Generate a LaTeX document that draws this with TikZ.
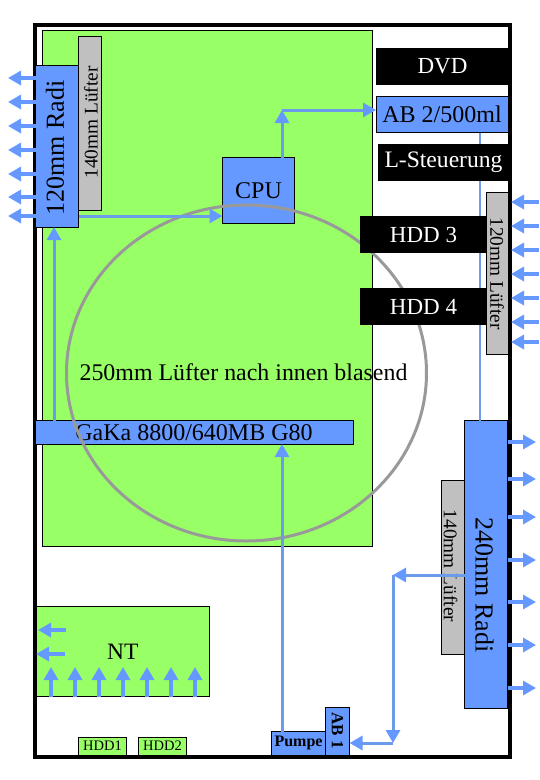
\documentclass[tikz,border=0pt]{standalone}
\usepackage{fontspec}
\setmainfont{Liberation Serif}
\usetikzlibrary{arrows.meta,calc,shapes.geometric}
\definecolor{boardgreen}{HTML}{99FF66}
\definecolor{partblue}{HTML}{6699FF}
\definecolor{fangray}{HTML}{C0C0C0}
\definecolor{ringgray}{HTML}{999999}
\definecolor{pipeblue}{HTML}{6C9BEB}
\newcommand{\fs}[1]{\fontsize{#1}{#1}\selectfont}
\tikzset{
  x=1pt,y=-1pt,
  part/.style={draw=black,line width=1pt,inner sep=0pt,outer sep=0pt,align=center},
  board/.style={part,fill=boardgreen},
  blue part/.style={part,fill=partblue},
  fan/.style={part,fill=fangray},
  drive/.style={fill=black,text=white,inner sep=0pt,outer sep=0pt},
  air/.style={draw=partblue,line width=3.6pt,-{Triangle[length=13pt,width=14pt]}},
  flow/.style={draw=pipeblue,line width=3pt,-{Triangle[color=partblue,length=13pt,width=14pt]}},
  pipe/.style={draw=pipeblue,line width=2.2pt},
}
\begin{document}
\begin{tikzpicture}
\useasboundingbox (0,0) rectangle (540,780);
% frame
\node[draw=black,line width=3.6pt,minimum width=474.5pt,minimum height=732pt,inner sep=0pt] (frame) at (272.5,390.75) {};
% green areas
\node[board,minimum width=330pt,minimum height=516pt] (mobo) at (207.5,288.25) {};
\node[board,minimum width=173.5pt,minimum height=90pt] (nt) at (122.75,651.5) {\fs{23.5}NT};
\node[board,minimum width=48pt,minimum height=18pt] (hdda) at (102.5,746) {\fs{14.5}HDD1};
\node[board,minimum width=48pt,minimum height=18pt] (hddb) at (162.5,746) {\fs{14.5}HDD2};
% parts
\node[blue part,minimum width=132pt,minimum height=36pt] (ab2) at (442,114.5) {\fs{24}AB 2/500ml};
\node[blue part,minimum width=43pt,minimum height=288pt] (radib) at (486,564.5) {};
% pipe behind the drives
\coordinate (pipetop) at (480,132);
\draw[pipe] (ab2.south -| pipetop) -- (radib.north -| pipetop);
\node[fan,minimum width=21.5pt,minimum height=162pt] (fanc) at (497.25,273.25) {};
\node[rotate=-90,inner sep=0pt] at (497,273.5) {\fs{19.3}120mm Lüfter};
\node[fan,minimum width=23pt,minimum height=174pt] (fanb) at (453,567) {};
\node[rotate=-90,inner sep=0pt] at (450.5,566) {\fs{19.3}140mm Lüfter};
\node[rotate=-90,inner sep=0pt] at (484.5,585) {\fs{26}240mm Radi};
\node[blue part,minimum width=43pt,minimum height=161.5pt] (radia) at (57,146.25) {};
\node[rotate=90,inner sep=0pt] at (55,148) {\fs{26}120mm Radi};
\node[fan,minimum width=23pt,minimum height=174pt] (fana) at (90,123.5) {};
\node[rotate=90,inner sep=0pt] at (91,122.5) {\fs{19.3}140mm Lüfter};
\node[blue part,minimum width=72pt,minimum height=66pt] (cpu) at (258.5,190.5) {\fs{24}CPU};
\node[blue part,minimum width=318pt,minimum height=23.5pt] (gaka) at (194,432.25) {\fs{24}GaKa 8800/640MB G80};
\node[blue part,minimum width=54pt,minimum height=23.5pt] (pumpe) at (298.5,743.25) {\fs{16}\bfseries Pumpe};
\node[blue part,minimum width=24pt,minimum height=47.5pt] (aba) at (337.5,731.25) {};
\node[rotate=-90,inner sep=0pt] at (337.5,730.5) {\fs{17}\bfseries AB 1};
% fan ring
\node[draw=ringgray,line width=3pt,ellipse,minimum width=360pt,minimum height=336pt,inner sep=0pt] (ring) at (246.5,373) {};
\node[inner sep=0pt] (ringlabel) at (243.5,372) {\fs{23.9}250mm Lüfter nach innen blasend};
% drives
\node[drive,minimum width=133pt,minimum height=37pt] (dvd) at (442.5,66.5) {\fs{23}DVD};
\node[drive,minimum width=131pt,minimum height=37pt] (lst) at (443.5,162.5) {\fs{23.6}L-Steuerung};
\node[drive,minimum width=127pt,minimum height=37pt] (hddc) at (423.5,234.5) {\fs{23}HDD 3};
\node[drive,minimum width=127pt,minimum height=37pt] (hddd) at (423.5,306.5) {\fs{23}HDD 4};
% air flows
\foreach \y in {78,102,126,150,174,197,216}{
  \coordinate (e) at (8,\y);
  \draw[air] (radia.west |- e) -- (e);
}
\foreach \y in {202,226,250,274,298,322,342}{
  \coordinate (s) at (539,\y);
  \coordinate (e) at (511,\y);
  \draw[air] (s) -- (e);
}
\foreach \y in {442,479,517,560,602,645,688}{
  \coordinate (e) at (536,\y);
  \draw[air] (radib.east |- e) -- (e);
}
\foreach \x in {51,75,99,123,147,171,195}{
  \coordinate (e) at (\x,667);
  \draw[air] (nt.south -| e) -- (e);
}
\foreach \a/\b/\y in {66/38/630,65/36/654}{
  \coordinate (s) at (\a,\y);
  \coordinate (e) at (\b,\y);
  \draw[air] (s) -- (e);
}
% coolant loop
\coordinate (a) at (54,0);
\coordinate (b) at (0,216);
\coordinate (c) at (282,110);
\coordinate (d) at (393,575);
\coordinate (f) at (393,743);
\draw[flow] (gaka.north -| a) -- (radia.south -| a);
\draw[flow] (radia.east |- b) -- (cpu.west |- b);
\draw[flow] (cpu.north -| c) -- (c);
\draw[flow] (c) -- (ab2.west |- c);
\draw[flow] (pumpe.north -| c) -- (gaka.south -| c);
\draw[flow] (radib.west |- d) -- (d);
\draw[flow] (d) -- (f);
\draw[flow] (f) -- (aba.east |- f);
\end{tikzpicture}
\end{document}
